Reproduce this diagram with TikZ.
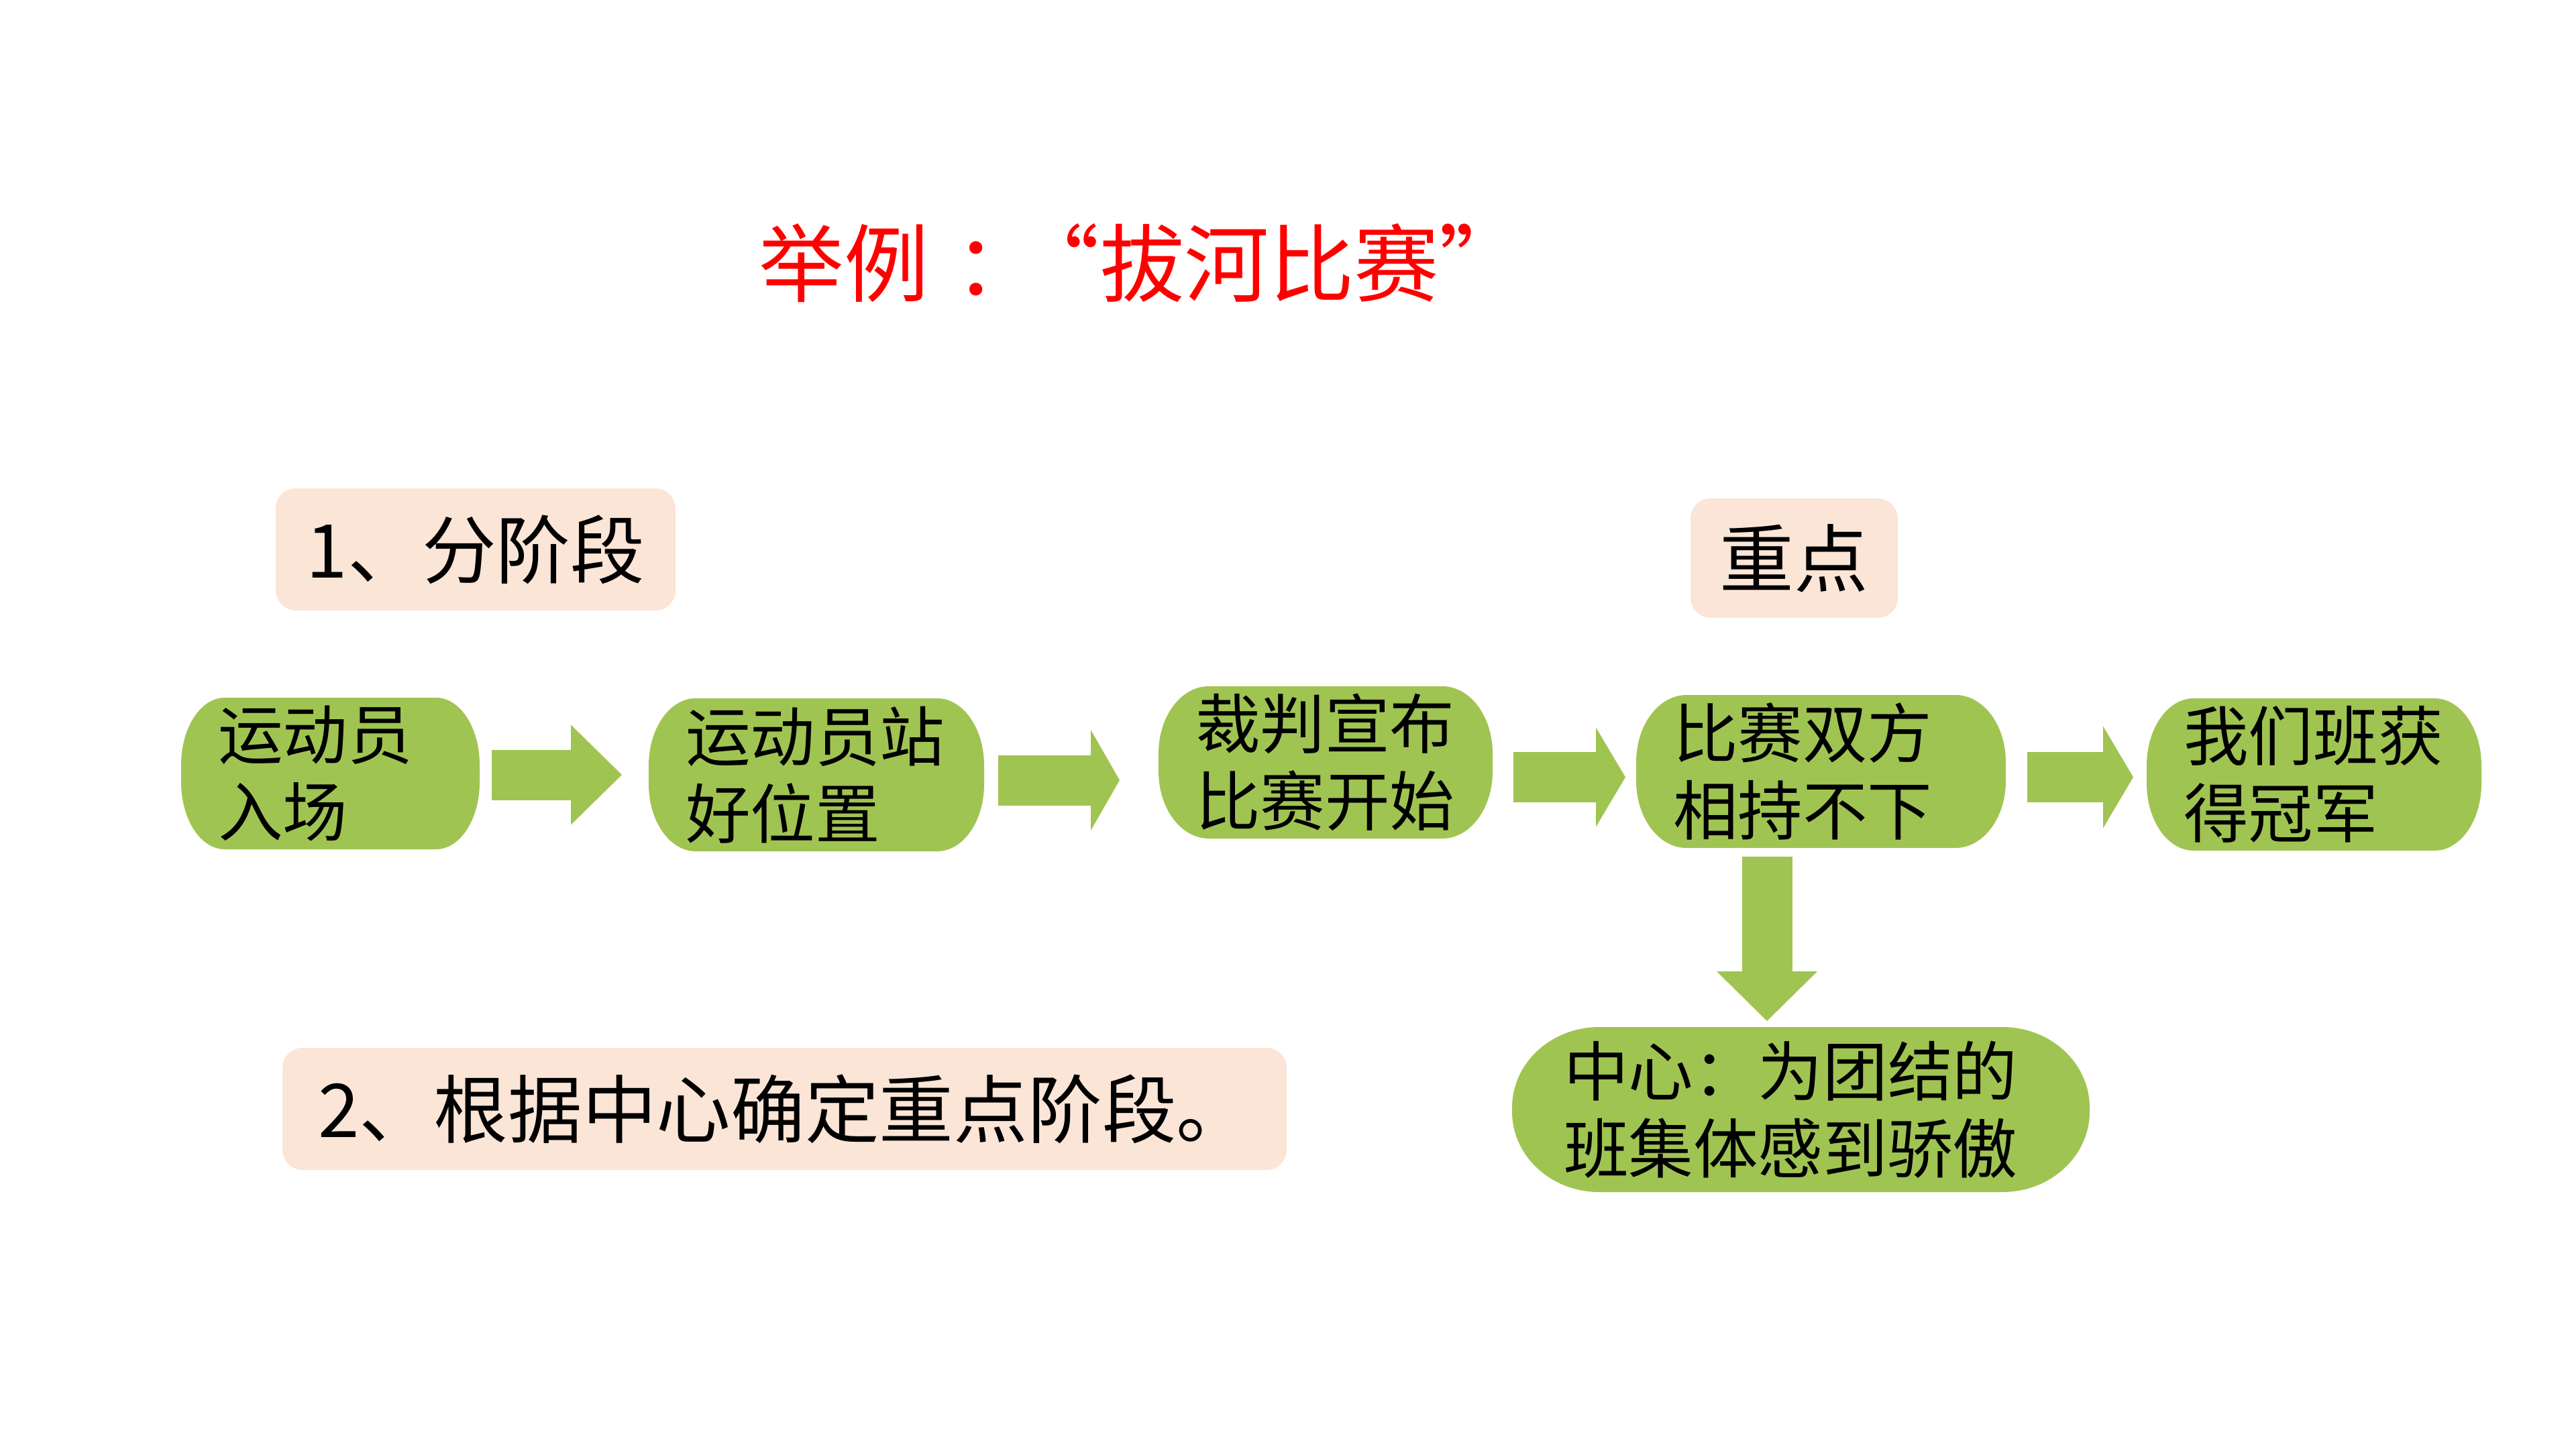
\documentclass[tikz,border=0pt]{standalone}
\usepackage{fontspec}
\setmainfont{Noto Sans CJK SC}
\usetikzlibrary{arrows.meta,backgrounds}
\definecolor{leaf}{RGB}{160,196,82}
\definecolor{peach}{RGB}{251,229,214}

\begin{document}
\begin{tikzpicture}[
  stage/.style={rectangle, outer sep=0pt, inner ysep=0pt, inner xsep=0.55cm, align=left,
    font=\fontsize{27.5pt}{32.7pt}\selectfont},
  tag/.style={rectangle, rounded corners=0.3cm, fill=peach, outer sep=0pt,
    font=\fontsize{31.5pt}{38pt}\selectfont},
  flow/.style={draw=leaf, line width=0.75cm},
]
\useasboundingbox (0,0) rectangle (38.4,-21.6);

\node[red, anchor=west, inner sep=0pt, font=\fontsize{36pt}{43pt}\selectfont] (title) at (11.31,-3.92)
  {举例\hspace{0.31em}：\hspace{-0.3em}“拔河比赛”};

\node[tag, minimum width=5.96cm, minimum height=1.82cm] (part1) at (7.09,-8.19) {1、分阶段};
\node[tag, minimum width=3.09cm, minimum height=1.78cm] (focus) at (26.745,-8.32) {重点};
\node[tag, minimum width=14.97cm, minimum height=1.82cm] (part2) at (11.695,-16.53) {2、根据中心确定重点阶段。};

\node[stage, text width=3.35cm, minimum height=2.26cm] (n1) at (4.925,-11.53) {运动员\\入场};
\node[stage, text width=3.90cm, minimum height=2.28cm] (n2) at (12.17,-11.55) {运动员站\\好位置};
\node[stage, text width=3.88cm, minimum height=2.27cm] (n3) at (19.76,-11.365) {裁判宣布\\比赛开始};
\node[stage, text width=4.41cm, minimum height=2.28cm] (n4) at (27.145,-11.50) {比赛双方\\相持不下};
\node[stage, text width=3.89cm, minimum height=2.27cm] (n5) at (34.495,-11.545) {我们班获\\得冠军};
\node[stage, inner xsep=0.77cm, text width=7.07cm, minimum height=2.46cm] (n6) at (26.845,-16.54) {中心：为团结的\\班集体感到骄傲};

\begin{scope}[on background layer]
\foreach \n/\rx/\ry in {n1/0.65/1.0, n2/0.7/1.0, n3/0.75/1.0, n4/0.75/1.0, n5/0.7/1.0, n6/1.3/1.2}
  \fill[leaf] ([xshift=\rx cm]\n.north west) -- ([xshift=-\rx cm]\n.north east)
    arc[start angle=90, end angle=0, x radius=\rx cm, y radius=\ry cm]
    -- ([yshift=\ry cm]\n.south east)
    arc[start angle=0, end angle=-90, x radius=\rx cm, y radius=\ry cm]
    -- ([xshift=\rx cm]\n.south west)
    arc[start angle=270, end angle=180, x radius=\rx cm, y radius=\ry cm]
    -- ([yshift=-\ry cm]\n.north west)
    arc[start angle=180, end angle=90, x radius=\rx cm, y radius=\ry cm]
    -- cycle;
\end{scope}

\draw[flow, -{Triangle[length=0.76cm,width=1.49cm,line width=0pt]}, shorten <=0.18cm, shorten >=0.40cm]
  (n1.east |- 0,-11.55) -- (n2.west |- 0,-11.55);
\draw[flow, -{Triangle[length=0.43cm,width=1.50cm,line width=0pt]}, shorten <=0.21cm, shorten >=0.58cm]
  (n2.east |- 0,-11.63) -- (n3.west |- 0,-11.63);
\draw[flow, -{Triangle[length=0.44cm,width=1.48cm,line width=0pt]}, shorten <=0.31cm, shorten >=0.16cm]
  (n3.east |- 0,-11.585) -- (n4.west |- 0,-11.585);
\draw[flow, -{Triangle[length=0.45cm,width=1.52cm,line width=0pt]}, shorten <=0.32cm, shorten >=0.20cm]
  (n4.east |- 0,-11.585) -- (n5.west |- 0,-11.585);
\draw[flow, -{Triangle[length=0.74cm,width=1.50cm,line width=0pt]}, shorten <=0.13cm, shorten >=0.09cm]
  (n4.south -| 26.34,0) -- (n6.north -| 26.34,0);
\end{tikzpicture}
\end{document}
